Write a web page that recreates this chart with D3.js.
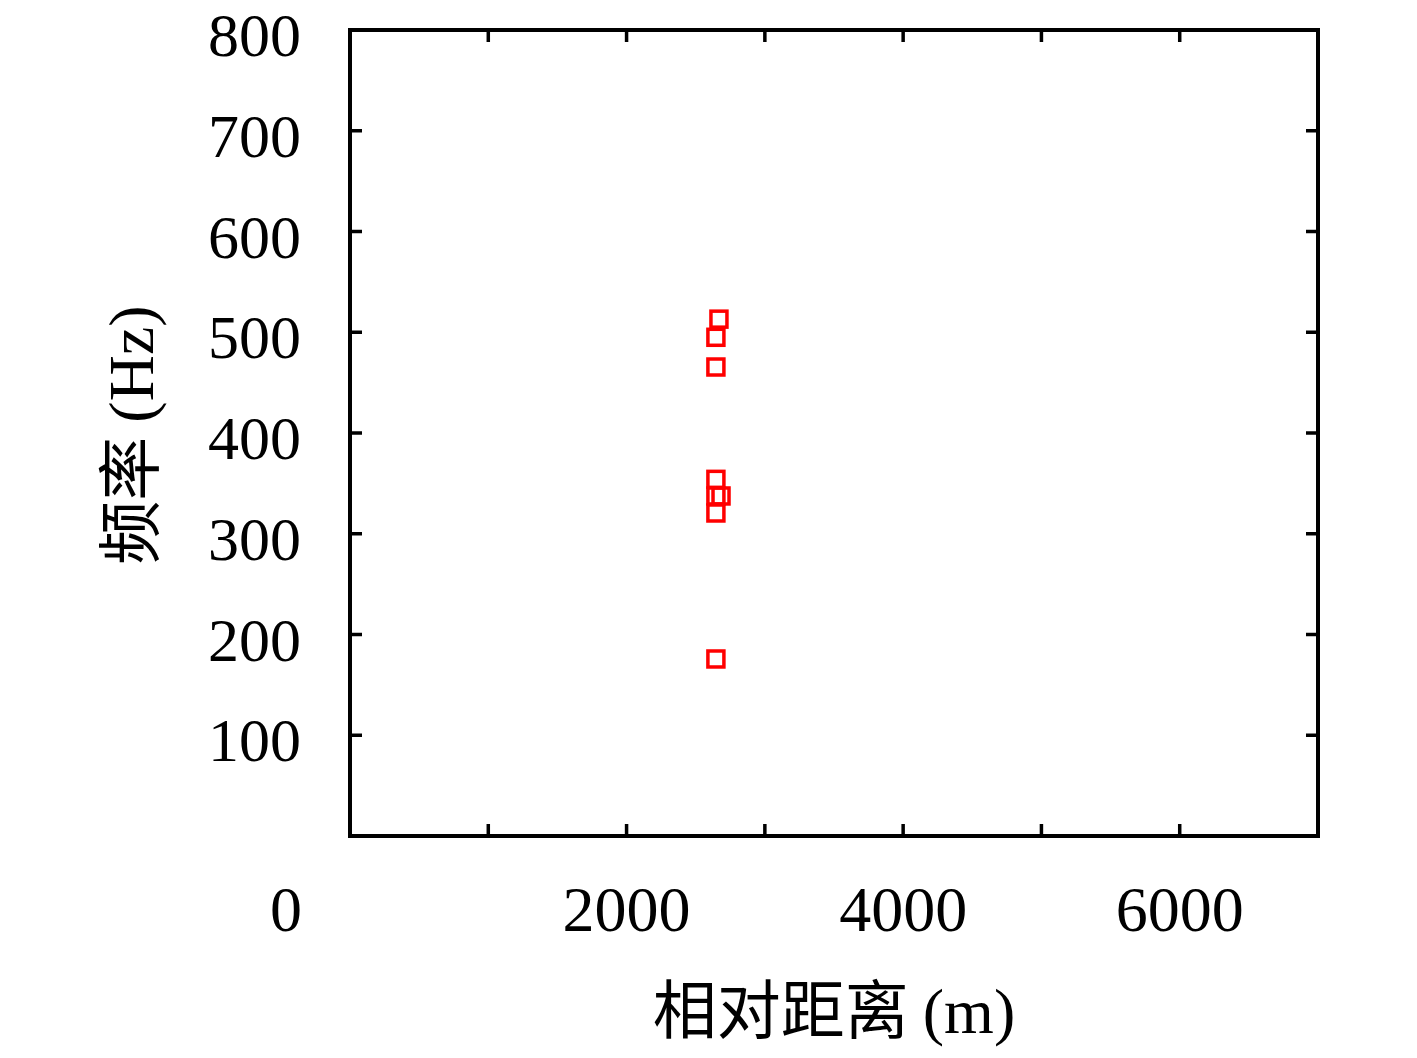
<!DOCTYPE html>
<html><head><meta charset="utf-8">
<script src="https://cdn.jsdelivr.net/npm/d3@7/dist/d3.min.js"></script>
<style>
body{margin:0;background:#fff;}
text{font-family:"Liberation Serif","DejaVu Serif",serif;}
</style></head>
<body>
<script>
const xValues = [2668, 2646, 2646, 2646, 2646, 2683, 2646, 2646];
const yValues = [513, 495, 465.5, 354, 337.5, 337.5, 320.6, 175.7];
const yTicks = [100, 200, 300, 400, 500, 600, 700, 800];
const xTicks = [1000, 2000, 3000, 4000, 5000, 6000];
const xTickLabels = [2000, 4000, 6000];
const xTitleCJK = "相对距离";
const xTitleUnit = "(m)";
const yTitleCJK = "频率";
const yTitleUnit = "(Hz)";

const W = 1417, H = 1058;
const L = 350, R = 1318, T = 30, B = 836;
const svg = d3.select("body").append("svg").attr("width", W).attr("height", H);
const x = d3.scaleLinear().domain([0, 7000]).range([L, R]);
const y = d3.scaleLinear().domain([0, 800]).range([B, T]);
const tk = 12;

const g = svg.append("g");
g.selectAll(".xb").data(xTicks).join("line").attr("class","xb")
  .attr("x1", d => x(d)).attr("x2", d => x(d)).attr("y1", B).attr("y2", B - tk)
  .attr("stroke", "#000").attr("stroke-width", 3.5);
g.selectAll(".xt").data(xTicks).join("line").attr("class","xt")
  .attr("x1", d => x(d)).attr("x2", d => x(d)).attr("y1", T).attr("y2", T + tk)
  .attr("stroke", "#000").attr("stroke-width", 3.5);
g.selectAll(".yl").data(yTicks.slice(0, -1)).join("line").attr("class","yl")
  .attr("x1", L).attr("x2", L + tk).attr("y1", d => y(d)).attr("y2", d => y(d))
  .attr("stroke", "#000").attr("stroke-width", 3.5);
g.selectAll(".yr").data(yTicks.slice(0, -1)).join("line").attr("class","yr")
  .attr("x1", R).attr("x2", R - tk).attr("y1", d => y(d)).attr("y2", d => y(d))
  .attr("stroke", "#000").attr("stroke-width", 3.5);
g.append("rect").attr("x", L).attr("y", T).attr("width", R - L).attr("height", B - T)
  .attr("fill", "none").attr("stroke", "#000").attr("stroke-width", 4);

svg.selectAll(".ylab").data(yTicks).join("text").attr("class","ylab")
  .attr("x", 301).attr("y", d => y(d) + 26).attr("text-anchor", "end")
  .attr("font-size", 62).text(d => d);
svg.selectAll(".xlab").data(xTickLabels).join("text").attr("class","xlab")
  .attr("x", d => x(d)).attr("y", 931).attr("text-anchor", "middle")
  .attr("font-size", 64).text(d => d);
svg.append("text").attr("x", 286).attr("y", 931).attr("text-anchor", "middle")
  .attr("font-size", 64).text("0");

svg.append("text").attr("x", 834).attr("y", 1033).attr("text-anchor", "middle")
  .attr("font-size", 64)
  .html('<tspan font-family="Noto Sans CJK SC">' + xTitleCJK + '</tspan><tspan dx="14">' + xTitleUnit + '</tspan>');
svg.append("text").attr("transform", "translate(153,435) rotate(-90)")
  .attr("text-anchor", "middle").attr("font-size", 64)
  .html('<tspan font-family="Noto Sans CJK SC">' + yTitleCJK + '</tspan><tspan dx="14">' + yTitleUnit + '</tspan>');

const s = 16;
svg.selectAll(".pt").data(xValues.map((v, i) => [v, yValues[i]])).join("rect").attr("class","pt")
  .attr("x", d => x(d[0]) - s / 2).attr("y", d => y(d[1]) - s / 2)
  .attr("width", s).attr("height", s)
  .attr("fill", "none").attr("stroke", "#f00").attr("stroke-width", 3.5);
</script>
</body></html>
